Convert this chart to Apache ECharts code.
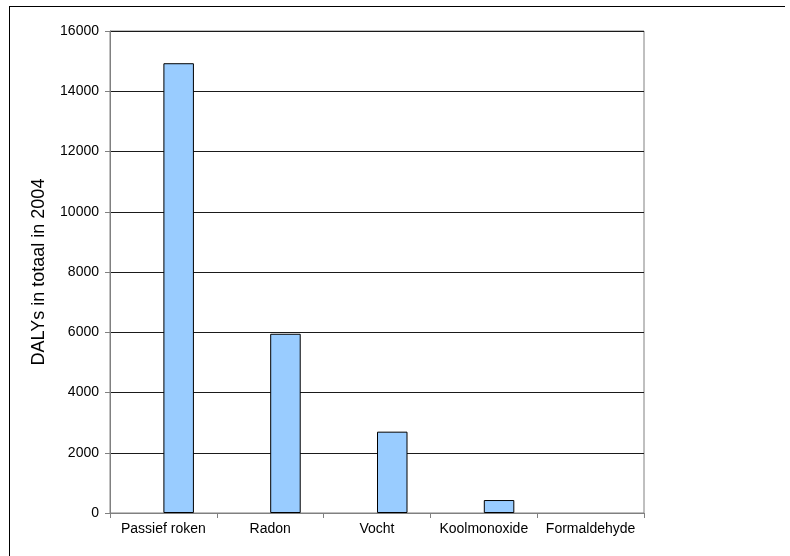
<!DOCTYPE html>
<html>
<head>
<meta charset="utf-8">
<script src="https://cdn.jsdelivr.net/npm/echarts@6/dist/echarts.min.js"></script>
<style>
  html, body { margin: 0; padding: 0; background: #fff; }
  #chart { width: 790px; height: 556px; }
</style>
</head>
<body>
<div id="chart"></div>
<script>
// Indoor environment risk factors and their disease burden
const categories = ['Passief roken', 'Radon', 'Vocht', 'Koolmonoxide', 'Formaldehyde'];
const dalys2004 = [14930, 5950, 2700, 430, 0];
const yTicks = { min: 0, max: 16000, interval: 2000 };
const yTitle = 'DALYs in totaal in 2004';

const font = 'Arial, "Liberation Sans", sans-serif';
const chart = echarts.init(document.getElementById('chart'), null, { renderer: 'canvas' });

// zero-valued bars get no outline so they stay invisible
const barData = dalys2004.map(v => (v > 0 ? v : { value: v, itemStyle: { borderWidth: 0 } }));

chart.setOption({
  animation: false,
  backgroundColor: '#ffffff',
  grid: {
    left: 110, right: 146, top: 31, bottom: 43,
    show: true, borderColor: '#808080', borderWidth: 1,
    containLabel: false
  },
  xAxis: {
    type: 'category',
    data: categories,
    axisLine: { show: true, lineStyle: { color: '#808080', width: 1 } },
    axisTick: { show: true, alignWithLabel: false, length: 5, lineStyle: { color: '#808080' } },
    axisLabel: { color: '#000', fontFamily: font, fontSize: 14, margin: 9, interval: 0 },
    splitLine: { show: false }
  },
  yAxis: {
    type: 'value',
    min: yTicks.min, max: yTicks.max, interval: yTicks.interval,
    name: yTitle,
    nameLocation: 'middle',
    nameGap: 62,
    nameTextStyle: { color: '#000', fontFamily: font, fontSize: 18 },
    axisLine: { show: true, lineStyle: { color: '#808080', width: 1 } },
    axisTick: { show: true, inside: false, length: 5, lineStyle: { color: '#808080' } },
    axisLabel: { color: '#000', fontFamily: font, fontSize: 14, margin: 11, formatter: v => String(v) },
    splitLine: { show: true, lineStyle: { color: '#1a1a1a', width: 1 } }
  },
  series: [
    {
      // empty companion series: keeps the bar in the right half of each slot
      type: 'bar',
      name: '',
      data: [],
      barGap: '0%',
      barCategoryGap: '42.86%'
    },
    {
      type: 'bar',
      name: yTitle,
      data: barData,
      barGap: '0%',
      barCategoryGap: '42.86%',
      itemStyle: { color: '#99CCFF', borderColor: '#000', borderWidth: 1 }
    }
  ],
  graphic: [
    { type: 'line', shape: { x1: 9, y1: 6.5, x2: 785, y2: 6.5 }, style: { stroke: '#000', lineWidth: 1 } },
    { type: 'line', shape: { x1: 9.5, y1: 6, x2: 9.5, y2: 556 }, style: { stroke: '#000', lineWidth: 1 } }
  ]
});
</script>
</body>
</html>
